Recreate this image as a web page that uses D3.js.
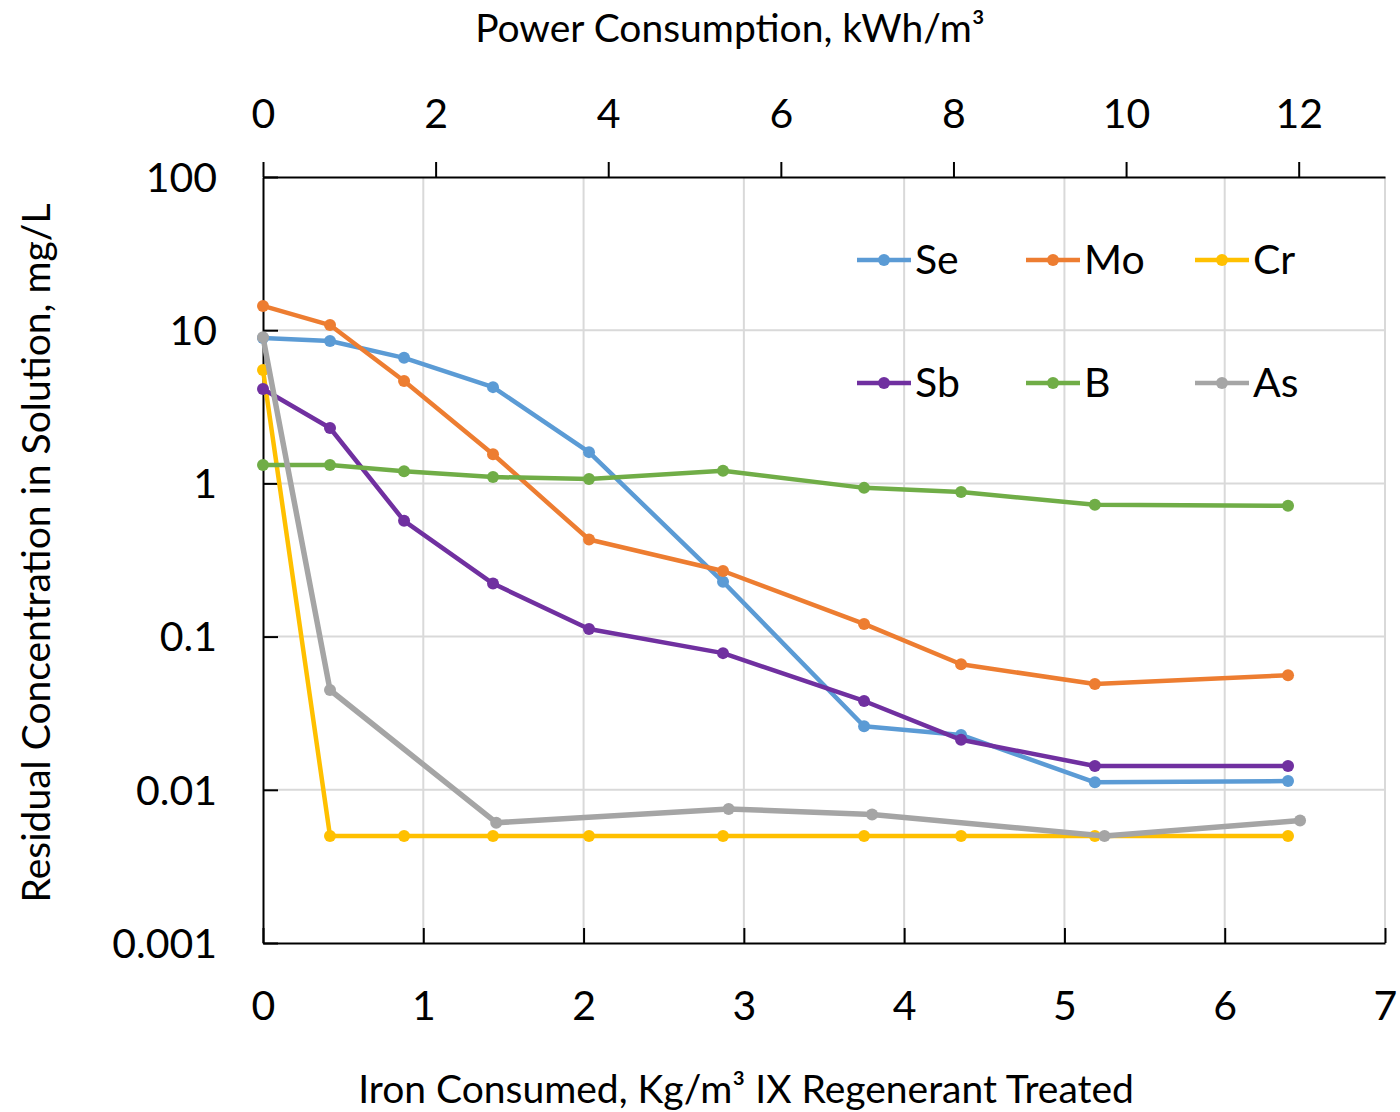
<!DOCTYPE html>
<html>
<head>
<meta charset="utf-8">
<script src="https://cdn.jsdelivr.net/npm/d3@7"></script>
<style>
  html, body { margin: 0; padding: 0; background: #fff; }
  svg { display: block; font-family: Lato, "Open Sans", sans-serif; }
</style>
</head>
<body>
<svg id="chart" width="1400" height="1112"></svg>
<script>
// iron consumed (kg/m3) at each sample, shared by most series
const ironX = [0, 0.418, 0.88, 1.435, 2.034, 2.87, 3.75, 4.355, 5.19, 6.395];
// As was sampled at slightly different points
const ironXAs = [0, 0.418, 1.455, 2.905, 3.80, 5.25, 6.47];

const seValues = [8.9, 8.5, 6.6, 4.25, 1.6, 0.228, 0.026, 0.0228, 0.0112, 0.0114];
const moValues = [14.4, 10.8, 4.66, 1.55, 0.43, 0.268, 0.121, 0.066, 0.049, 0.056];
const crValues = [5.5, 0.005, 0.005, 0.005, 0.005, 0.005, 0.005, 0.005, 0.005, 0.005];
const sbValues = [4.13, 2.3, 0.57, 0.222, 0.112, 0.078, 0.038, 0.0212, 0.0143, 0.0143];
const bValues = [1.32, 1.32, 1.2, 1.1, 1.07, 1.21, 0.935, 0.88, 0.725, 0.715];
const asValues = [9.0, 0.0448, 0.0061, 0.0075, 0.0069, 0.005, 0.0063];

const seriesNames = ["Se", "Mo", "Cr", "Sb", "B", "As"];
const seriesColors = ["#5b9bd5", "#ed7d31", "#ffc000", "#7030a0", "#70ad47", "#a5a5a5"];

const bottomTicks = [0, 1, 2, 3, 4, 5, 6, 7];
const topTicks = [0, 2, 4, 6, 8, 10, 12];
const yTicks = [0.001, 0.01, 0.1, 1, 10, 100];
const yTickLabels = ["0.001", "0.01", "0.1", "1", "10", "100"];

const series = [
  { name: "Se", xs: ironX, ys: seValues },
  { name: "Mo", xs: ironX, ys: moValues },
  { name: "Cr", xs: ironX, ys: crValues },
  { name: "Sb", xs: ironX, ys: sbValues },
  { name: "B", xs: ironX, ys: bValues },
  { name: "As", xs: ironXAs, ys: asValues },
];

const svg = d3.select("#chart");
const margin = { top: 177, right: 15, bottom: 169, left: 263 };
const W = 1400, H = 1112;
const innerW = W - margin.left - margin.right;
const innerH = H - margin.top - margin.bottom;
const tickFont = "41px";
const titleFont = "39px";
const gridColor = "#d9d9d9";

const x = d3.scaleLinear().domain([0, 7]).range([0, innerW]);
const xTop = d3.scaleLinear().domain([0, 13]).range([0, innerW]);
const y = d3.scaleLog().domain([0.001, 100]).range([innerH, 0]);
const color = d3.scaleOrdinal().domain(seriesNames).range(seriesColors);

const g = svg.append("g").attr("transform", `translate(${margin.left},${margin.top})`);

// gridlines
g.append("g")
  .selectAll("line")
  .data(bottomTicks.slice(1))
  .join("line")
  .attr("x1", d => x(d)).attr("x2", d => x(d))
  .attr("y1", 0).attr("y2", innerH)
  .attr("stroke", gridColor).attr("stroke-width", 2);

g.append("g")
  .selectAll("line")
  .data(yTicks.slice(1, -1))
  .join("line")
  .attr("x1", 0).attr("x2", innerW)
  .attr("y1", d => y(d)).attr("y2", d => y(d))
  .attr("stroke", gridColor).attr("stroke-width", 2);

// axes
function styleAxis(sel) {
  sel.select(".domain").attr("stroke", "#000").attr("stroke-width", 2);
  sel.selectAll(".tick line").attr("stroke", "#000").attr("stroke-width", 2);
  sel.selectAll(".tick text")
    .attr("fill", "#000")
    .style("font-size", tickFont)
    .style("font-family", "Lato, sans-serif");
}

const bottomAxis = g.append("g")
  .attr("transform", `translate(0,${innerH})`)
  .call(d3.axisBottom(x).tickValues(bottomTicks).tickFormat(d3.format("d"))
    .tickSizeInner(-15).tickSizeOuter(0));
styleAxis(bottomAxis);
bottomAxis.selectAll(".tick text").attr("y", 63).attr("dy", "0.35em");

const topAxis = g.append("g")
  .call(d3.axisTop(xTop).tickValues(topTicks).tickFormat(d3.format("d"))
    .tickSizeInner(15).tickSizeOuter(0));
styleAxis(topAxis);
topAxis.selectAll(".tick text").attr("y", -63).attr("dy", "0.35em");

const leftAxis = g.append("g")
  .call(d3.axisLeft(y).tickValues(yTicks)
    .tickFormat((d, i) => yTickLabels[i])
    .tickSizeInner(-15).tickSizeOuter(0));
styleAxis(leftAxis);
leftAxis.selectAll(".tick text").attr("x", -46).attr("dy", "0.35em");

// series
const line = d3.line().x(d => x(d[0])).y(d => y(d[1]));

series.forEach(s => {
  const pts = s.xs.map((v, i) => [v, s.ys[i]]);
  const c = color(s.name);
  g.append("path")
    .datum(pts)
    .attr("d", line)
    .attr("fill", "none")
    .attr("stroke", c)
    .attr("stroke-width", s.name === "As" ? 5.5 : 4.5)
    .attr("stroke-linejoin", "round");
  g.append("g")
    .selectAll("circle")
    .data(pts)
    .join("circle")
    .attr("cx", d => x(d[0]))
    .attr("cy", d => y(d[1]))
    .attr("r", 6)
    .attr("fill", c);
});

// legend, 3 columns x 2 rows inside the plot
const legend = svg.append("g");
const legCols = [857, 1026, 1195];
const legRows = [260, 383];
seriesNames.forEach((name, i) => {
  const lx = legCols[i % 3];
  const ly = legRows[Math.floor(i / 3)];
  const item = legend.append("g").attr("transform", `translate(${lx},${ly})`);
  item.append("line")
    .attr("x1", 0).attr("x2", 54)
    .attr("stroke", color(name)).attr("stroke-width", 4.5);
  item.append("circle").attr("cx", 27).attr("r", 6).attr("fill", color(name));
  item.append("text")
    .attr("x", 58).attr("dy", "0.35em")
    .style("font-size", tickFont)
    .attr("fill", "#000")
    .text(name);
});

// axis titles
svg.append("text")
  .attr("x", 730).attr("y", 28).attr("dy", "0.35em")
  .attr("text-anchor", "middle")
  .style("font-size", titleFont)
  .text("Power Consumption, kWh/m³");

svg.append("text")
  .attr("x", 746).attr("y", 1089).attr("dy", "0.35em")
  .attr("text-anchor", "middle")
  .style("font-size", titleFont)
  .text("Iron Consumed, Kg/m³ IX Regenerant Treated");

svg.append("text")
  .attr("transform", "translate(36,553) rotate(-90)")
  .attr("dy", "0.35em")
  .attr("text-anchor", "middle")
  .style("font-size", titleFont)
  .text("Residual Concentration in Solution, mg/L");
</script>
</body>
</html>
